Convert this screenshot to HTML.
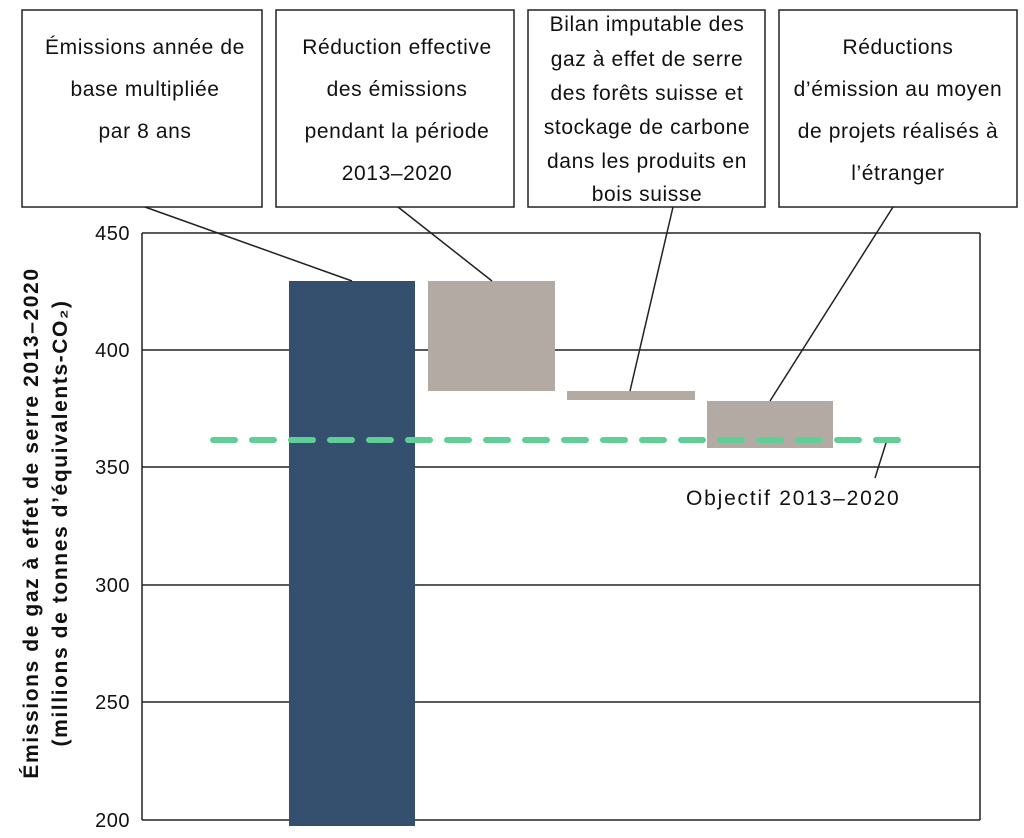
<!DOCTYPE html>
<html><head><meta charset="utf-8"><style>
html,body{margin:0;padding:0;background:#fff;}
svg{display:block;font-family:"Liberation Sans",sans-serif;}
</style></head><body>
<svg width="1024" height="838" viewBox="0 0 1024 838">
<g stroke="#222" stroke-width="1.5">
<line x1="142" y1="233" x2="980" y2="233"/>
<line x1="142" y1="350" x2="980" y2="350"/>
<line x1="142" y1="467" x2="980" y2="467"/>
<line x1="142" y1="585" x2="980" y2="585"/>
<line x1="142" y1="702" x2="980" y2="702"/>
<line x1="142" y1="820" x2="980" y2="820"/>
<line x1="142" y1="233" x2="142" y2="820"/>
<line x1="980" y1="233" x2="980" y2="820"/>
</g>
<g font-size="20" fill="#111" text-anchor="end" letter-spacing="0.5">
<text x="130" y="240">450</text><text x="130" y="357">400</text><text x="130" y="474">350</text>
<text x="130" y="592">300</text><text x="130" y="709">250</text><text x="130" y="827">200</text>
</g>
<rect x="289" y="281" width="126" height="545" fill="#354f6e"/>
<rect x="428" y="281" width="127" height="110" fill="#b3aba3"/>
<rect x="567" y="391" width="128" height="9" fill="#b3aba3"/>
<rect x="707" y="401" width="126" height="47" fill="#b3aba3"/>
<line x1="213" y1="440" x2="900" y2="440" stroke="#5fcf96" stroke-width="6" stroke-linecap="round" stroke-dasharray="22 17"/>
<g stroke="#222" stroke-width="1.5">
<line x1="145" y1="207" x2="352" y2="281"/>
<line x1="398" y1="207" x2="492" y2="281"/>
<line x1="673" y1="207" x2="630" y2="391"/>
<line x1="893" y1="207" x2="770" y2="401"/>
<line x1="886" y1="443" x2="875" y2="478"/>
</g>
<text x="686" y="505" font-size="21" letter-spacing="1.8" fill="#111">Objectif 2013–2020</text>
<g fill="#fff" stroke="#222" stroke-width="1.5">
<rect x="22" y="10" width="240" height="197"/>
<rect x="276" y="10" width="238" height="197"/>
<rect x="528" y="10" width="237" height="197"/>
<rect x="779" y="10" width="238" height="197"/>
</g>
<g font-size="21" fill="#111" text-anchor="middle" letter-spacing="0.6">
<text x="145" y="54">Émissions année de</text><text x="145" y="96">base multipliée</text><text x="145" y="138">par 8 ans</text>
<text x="397" y="54">Réduction effective</text><text x="397" y="96">des émissions</text><text x="397" y="138">pendant la période</text><text x="397" y="180">2013–2020</text>
<text x="647" y="31">Bilan imputable des</text><text x="647" y="66">gaz à effet de serre</text><text x="647" y="100">des forêts suisse et</text><text x="647" y="134">stockage de carbone</text><text x="647" y="168">dans les produits en</text><text x="647" y="201">bois suisse</text>
<text x="898" y="54">Réductions</text><text x="898" y="96">d’émission au moyen</text><text x="898" y="138">de projets réalisés à</text><text x="898" y="180">l’étranger</text>
</g>
<g font-size="21" font-weight="bold" fill="#111" text-anchor="middle" letter-spacing="1.6">
<text transform="translate(38,523) rotate(-90)">Émissions de gaz à effet de serre 2013–2020</text>
<text transform="translate(67,523) rotate(-90)">(millions de tonnes d’équivalents-CO₂)</text>
</g>
</svg>
</body></html>
